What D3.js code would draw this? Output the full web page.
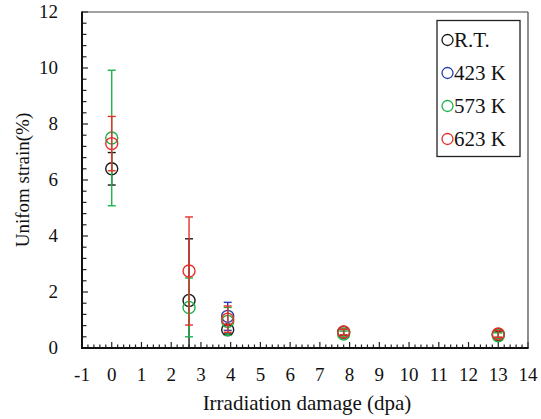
<!DOCTYPE html>
<html>
<head>
<meta charset="utf-8">
<script src="https://cdn.jsdelivr.net/npm/d3@7"></script>
<style>
  html, body { margin: 0; padding: 0; background: #fff; }
  svg { display: block; }
  text { font-family: "Liberation Serif", "Times New Roman", serif; fill: #111; }
</style>
</head>
<body>
<svg id="chart" width="541" height="419"></svg>
<script>
// Irradiation dose levels (dpa)
const doses = [0, 2.6, 3.9, 7.8, 13];

// Series names and colours
const seriesNames = ["R.T.", "423 K", "573 K", "623 K"];
const seriesColors = ["#1a1a1a", "#2b3fae", "#1db34a", "#e8302a"];

// Uniform strain (%) per series at each dose; null = not measured
const strainRT   = [6.4, 1.7, 0.65, 0.56, 0.48];
const strain423  = [null, null, 1.13, null, null];
const strain573  = [7.5, 1.45, 0.95, 0.5, 0.44];
const strain623  = [7.3, 2.75, 1.03, 0.57, 0.5];

// Error bar half-widths (%)
const errRT   = [0.58, 2.2, 0.15, 0.1, 0.1];
const err423  = [null, null, 0.5, null, null];
const err573  = [2.42, 1.05, 0.5, 0.1, 0.1];
const err623  = [0.97, 1.93, 0.47, 0.1, 0.12];

const xTicks = d3.range(-1, 15, 1);
const yTicks = d3.range(0, 13, 2);

const values = [strainRT, strain423, strain573, strain623];
const errors = [errRT, err423, err573, err623];

const svg = d3.select("#chart");
const plotLeft = 82, plotRight = 528, plotTop = 12, plotBottom = 348;

const x = d3.scaleLinear().domain([-1, 14]).range([plotLeft, plotRight]);
const y = d3.scaleLinear().domain([0, 12]).range([plotBottom, plotTop]);

const g = svg.append("g");

// Minor / major ticks, pointing inward
const xMinor = d3.range(-1, 14.001, 0.2).map(v => +v.toFixed(1));
g.selectAll(".xmin").data(xMinor).join("line")
  .attr("x1", d => x(d)).attr("x2", d => x(d))
  .attr("y1", plotBottom).attr("y2", d => Math.abs(d - Math.round(d)) < 1e-6 ? plotBottom - 6 : plotBottom - 3.5)
  .attr("stroke", "#222").attr("stroke-width", 1.2);

const yMinor = d3.range(0, 12.001, 0.4).map(v => +v.toFixed(1));
g.selectAll(".ymin").data(yMinor).join("line")
  .attr("x1", plotLeft).attr("x2", d => Math.abs(d / 2 - Math.round(d / 2)) < 1e-6 ? plotLeft + 6 : plotLeft + 4.5)
  .attr("y1", d => y(d)).attr("y2", d => y(d))
  .attr("stroke", "#222").attr("stroke-width", 1.2);

// Frame
g.append("line").attr("x1", plotLeft).attr("x2", plotRight).attr("y1", plotTop).attr("y2", plotTop)
  .attr("stroke", "#444").attr("stroke-width", 1.2);
g.append("line").attr("x1", plotRight).attr("x2", plotRight).attr("y1", plotTop).attr("y2", plotBottom)
  .attr("stroke", "#444").attr("stroke-width", 1.2);
g.append("line").attr("x1", plotLeft).attr("x2", plotLeft).attr("y1", plotTop - 0.6).attr("y2", plotBottom + 1)
  .attr("stroke", "#111").attr("stroke-width", 2);
g.append("line").attr("x1", plotLeft - 1).attr("x2", plotRight + 0.6).attr("y1", plotBottom).attr("y2", plotBottom)
  .attr("stroke", "#111").attr("stroke-width", 2);

// Tick labels
g.selectAll(".xl").data(xTicks).join("text")
  .attr("x", d => x(d)).attr("y", 381)
  .attr("text-anchor", "middle").attr("font-size", 19)
  .text(d => d);
g.selectAll(".yl").data(yTicks).join("text")
  .attr("x", 58).attr("y", d => y(d) + 6)
  .attr("text-anchor", "end").attr("font-size", 19)
  .text(d => d);

// Axis titles
svg.append("text").attr("x", 307).attr("y", 410)
  .attr("text-anchor", "middle").attr("font-size", 21)
  .text("Irradiation damage (dpa)");
svg.append("text").attr("transform", "translate(29,180) rotate(-90)")
  .attr("text-anchor", "middle").attr("font-size", 19)
  .text("Unifom strain(%)");

// Error bars and markers, series by series
const plot = svg.append("g");
values.forEach((vals, si) => {
  const pts = doses.map((d, i) => ({ x: d, v: vals[i], e: errors[si][i] })).filter(p => p.v != null);
  const col = seriesColors[si];
  const eg = plot.append("g").attr("stroke", col).attr("stroke-width", 1.4).attr("fill", "none");
  pts.forEach(p => {
    const lo = Math.max(0, p.v - p.e), hi = p.v + p.e;
    eg.append("line").attr("x1", x(p.x)).attr("x2", x(p.x)).attr("y1", y(lo)).attr("y2", y(hi));
    eg.append("line").attr("x1", x(p.x) - 4).attr("x2", x(p.x) + 4).attr("y1", y(hi)).attr("y2", y(hi));
    if (p.v - p.e > 0)
      eg.append("line").attr("x1", x(p.x) - 4).attr("x2", x(p.x) + 4).attr("y1", y(lo)).attr("y2", y(lo));
    eg.append("circle").attr("cx", x(p.x)).attr("cy", y(p.v)).attr("r", 6);
  });
});

// Legend
const lg = svg.append("g");
lg.append("rect").attr("x", 437).attr("y", 20.5).attr("width", 83).attr("height", 136)
  .attr("fill", "#fff").attr("stroke", "#222").attr("stroke-width", 1.3);
seriesNames.forEach((name, i) => {
  const cy = 40 + i * 33;
  lg.append("circle").attr("cx", 447.5).attr("cy", cy).attr("r", 5.5)
    .attr("fill", "none").attr("stroke", seriesColors[i]).attr("stroke-width", 1.3);
  lg.append("text").attr("x", 454).attr("y", cy + 7).attr("font-size", 21).text(name);
});
</script>
</body>
</html>
